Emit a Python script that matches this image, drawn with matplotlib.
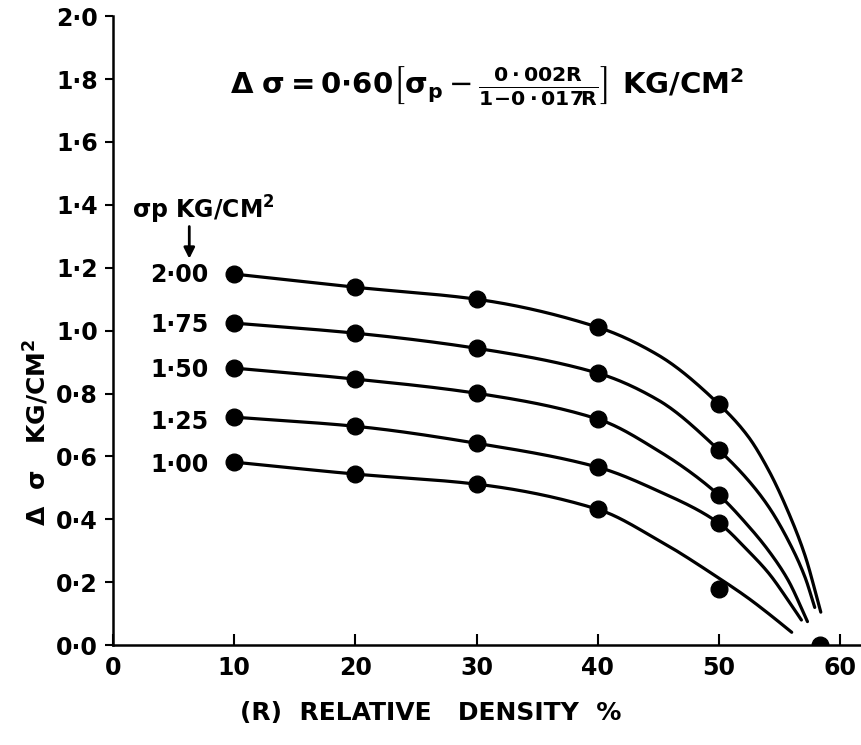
import matplotlib
matplotlib.use("Agg")
import matplotlib.pyplot as plt
import numpy as np

# measured points (relative density R %, delta sigma kg/cm2)
density = [10, 20, 30, 40, 50]
sigma_p_labels = ["2·00", "1·75", "1·50", "1·25", "1·00"]
pts_200 = [1.180, 1.138, 1.100, 1.011, 0.766]
pts_175 = [1.024, 0.992, 0.944, 0.865, 0.620]
pts_150 = [0.881, 0.846, 0.801, 0.719, 0.477]
pts_125 = [0.725, 0.696, 0.642, 0.566, 0.388]
pts_100 = [0.582, 0.544, 0.512, 0.432, 0.178]
extra_x = [58.3]
extra_y = [0.0]

# hand-drawn fitted curves
curve_x_200 = [10, 20, 30, 40, 45, 50, 52.4, 54.1, 55.7, 57.1, 58.4]
curve_y_200 = [1.180, 1.138, 1.100, 1.011, 0.922, 0.766, 0.664, 0.556, 0.425, 0.285, 0.105]
curve_x_175 = [10, 20, 30, 40, 45, 50, 52.4, 54.1, 55.7, 57.1, 57.9]
curve_y_175 = [1.024, 0.992, 0.944, 0.865, 0.779, 0.620, 0.525, 0.440, 0.334, 0.216, 0.120]
curve_x_150 = [10, 20, 30, 40, 45, 50, 52.4, 54.1, 55.7, 57.3]
curve_y_150 = [0.881, 0.846, 0.801, 0.719, 0.618, 0.477, 0.380, 0.300, 0.207, 0.075]
curve_x_125 = [10, 20, 30, 40, 45, 50, 52.4, 54.1, 55.7, 56.8]
curve_y_125 = [0.725, 0.696, 0.642, 0.566, 0.490, 0.388, 0.300, 0.229, 0.143, 0.080]
curve_x_100 = [10, 20, 30, 40, 45, 50, 52.4, 54.1, 56.0]
curve_y_100 = [0.582, 0.544, 0.512, 0.432, 0.334, 0.213, 0.150, 0.100, 0.041]

label_y = [1.176, 1.017, 0.874, 0.709, 0.572]

x_ticks = [0, 10, 20, 30, 40, 50, 60]
y_ticks = [0.0, 0.2, 0.4, 0.6, 0.8, 1.0, 1.2, 1.4, 1.6, 1.8, 2.0]
y_tick_labels = ["0·0", "0·2", "0·4", "0·6", "0·8", "1·0", "1·2", "1·4", "1·6", "1·8", "2·0"]


def smooth(xs, ys, n=30):
    # monotone cubic (Fritsch-Carlson) through the read knots, only for drawing
    x = np.asarray(xs, float)
    y = np.asarray(ys, float)
    h = np.diff(x)
    d = np.diff(y) / h
    m = np.zeros_like(y)
    m[0], m[-1] = d[0], d[-1]
    for i in range(1, len(x) - 1):
        if d[i - 1] * d[i] <= 0:
            m[i] = 0.0
        else:
            w1 = 2 * h[i] + h[i - 1]
            w2 = h[i] + 2 * h[i - 1]
            m[i] = (w1 + w2) / (w1 / d[i - 1] + w2 / d[i])
    sx, sy = [], []
    for i in range(len(x) - 1):
        t = np.linspace(0, 1, n, endpoint=False)
        h00 = 2 * t ** 3 - 3 * t ** 2 + 1
        h10 = t ** 3 - 2 * t ** 2 + t
        h01 = -2 * t ** 3 + 3 * t ** 2
        h11 = t ** 3 - t ** 2
        sx.append(x[i] + t * h[i])
        sy.append(h00 * y[i] + h10 * h[i] * m[i] + h01 * y[i + 1] + h11 * h[i] * m[i + 1])
    sx.append([x[-1]])
    sy.append([y[-1]])
    return np.concatenate(sx), np.concatenate(sy)


plt.rcParams['font.family'] = ['DejaVu Sans']
plt.rcParams['mathtext.fontset'] = 'dejavusans'

fig = plt.figure(figsize=(8.62, 7.45), dpi=100)
ax = fig.add_axes([0.131, 0.134, 0.869, 0.8443])

curves = [(curve_x_200, curve_y_200), (curve_x_175, curve_y_175), (curve_x_150, curve_y_150),
          (curve_x_125, curve_y_125), (curve_x_100, curve_y_100)]
points = [pts_200, pts_175, pts_150, pts_125, pts_100]

for (cx, cy), py in zip(curves, points):
    sx, sy = smooth(cx, cy)
    ax.plot(sx, sy, color='black', lw=2.3, solid_capstyle='round')
    ax.plot(density, py, 'o', color='black', ms=12)
ax.plot(extra_x, extra_y, 'o', color='black', ms=12, clip_on=True)

for lab, ly in zip(sigma_p_labels, label_y):
    ax.text(7.9, ly, lab, ha='right', va='center', fontsize=17, fontweight='bold')

ax.text(1.6, 1.385, r"σp KG/CM$^{\mathbf{2}}$", ha='left', va='center', fontsize=17, fontweight='bold')
ax.annotate('', xy=(6.3, 1.22), xytext=(6.3, 1.34),
            arrowprops=dict(arrowstyle='-|>', color='black', lw=2, mutation_scale=16))

fig.text(0.565, 0.885,
         r"$\mathbf{\Delta\ \sigma = 0{\cdot}60}\left[\mathbf{\sigma_p} - \frac{\mathbf{0\cdot 002R}}{\mathbf{1\!-\!0\cdot 017R}}\right]$ KG/CM$^{\mathbf{2}}$",
         ha='center', va='center', fontsize=21, fontweight='bold')

ax.set_xlim(0, 61.8)
ax.set_ylim(0, 2.0)
ax.set_xticks(x_ticks)
ax.set_xticklabels([str(v) for v in x_ticks])
ax.set_yticks(y_ticks)
ax.set_yticklabels(y_tick_labels)
ax.tick_params(axis='x', direction='in', length=8, width=1.5, labelsize=17, pad=8)
ax.tick_params(axis='y', direction='out', length=6, width=1.5, labelsize=17, pad=5)
for lab in ax.get_xticklabels() + ax.get_yticklabels():
    lab.set_fontweight('bold')
ax.spines['top'].set_visible(False)
ax.spines['right'].set_visible(False)
ax.spines['left'].set_linewidth(1.8)
ax.spines['bottom'].set_linewidth(1.8)

fig.text(0.042, 0.42, r"Δ  σ   KG/CM$^{\mathbf{2}}$", rotation=90, ha='center', va='center',
         fontsize=18, fontweight='bold')
fig.text(0.5, 0.043, "(R)  RELATIVE   DENSITY  %", ha='center', va='center',
         fontsize=18, fontweight='bold')

fig.savefig('out.png', dpi=100)
